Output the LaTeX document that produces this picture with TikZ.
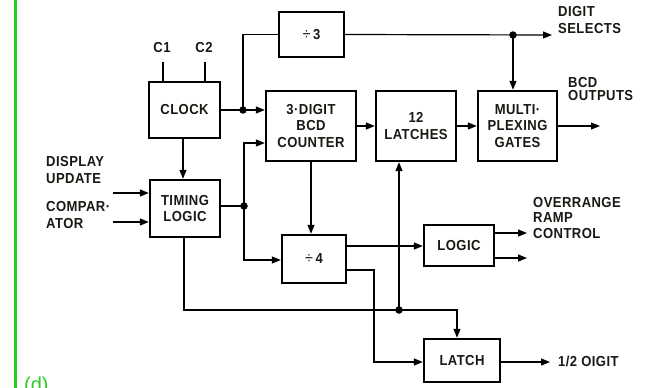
\documentclass[tikz,border=0pt]{standalone}
\usepackage{fontspec}
\setmainfont{Liberation Sans}[LetterSpace=3,FakeStretch=0.9]
\newfontfamily\plainfont{Liberation Sans}
\usetikzlibrary{arrows.meta,calc}
\definecolor{grn}{RGB}{40,205,30}
\definecolor{ink}{RGB}{25,25,20}
\begin{document}
\begin{tikzpicture}[x=1pt,y=-1pt,
  txt/.style={font=\fontsize{14.5}{16.5}\selectfont\bfseries, text=ink},
  blk/.style={draw, line width=2.4pt, txt, align=center, inner sep=0pt},
  con/.style={line width=1.2pt},
  arr/.style={con, -{Triangle[length=9pt,width=7pt]}},
  dot/.style={circle, fill, inner sep=0pt, minimum size=7.5pt},
  lab/.style={txt, align=left, inner sep=0pt, anchor=base west}]
\useasboundingbox (0,0) rectangle (645,388);
\fill[white] (0,0) rectangle (645,388);
\draw[grn, line width=3pt] (15,0) -- (15,388);
\node[anchor=north west, text=grn, font=\plainfont\fontsize{20}{22}\selectfont, inner sep=0pt] (fig) at (24,377) {(d)};

% blocks
\node[blk, minimum width=65pt, minimum height=45pt] (div3) at (311.5,34.5) {{\mdseries\fontsize{16}{16}\selectfont ÷}\,3};
\node[blk, minimum width=71pt, minimum height=56pt] (clock) at (184.5,110) {CLOCK};
\node[blk, minimum width=90pt, minimum height=70pt] (cnt) at (311,126) {3·DIGIT\\BCD\\COUNTER};
\node[blk, minimum width=80pt, minimum height=70pt] (lat) at (416,126) {12\\LATCHES};
\node[blk, minimum width=79pt, minimum height=70pt] (mux) at (517.5,126) {MULTI·\\PLEXING\\GATES};
\node[blk, minimum width=70pt, minimum height=57pt] (tim) at (185,208.5) {TIMING\\LOGIC};
\node[blk, minimum width=64pt, minimum height=48pt] (div4) at (314,259) {{\mdseries\fontsize{16}{16}\selectfont ÷}\,4};
\node[blk, minimum width=70pt, minimum height=41pt] (logic) at (459,245.5) {LOGIC};
\node[blk, minimum width=76pt, minimum height=43pt] (latch) at (462,360.5) {LATCH};

% labels
\node[txt, anchor=base, inner sep=0pt] (c1) at (162,52) {C1};
\node[txt, anchor=base, inner sep=0pt] (c2) at (204,52) {C2};
\node[lab] (disp) at (46,183) {DISPLAY\\UPDATE};
\node[lab] (comp) at (46,228) {COMPAR·\\ATOR};
\node[lab] (dsel) at (558,33) {DIGIT\\SELECTS};
\node[lab, font=\fontsize{14.5}{13}\selectfont\bfseries] (bcdo) at (568,100) {BCD\\OUTPUTS};
\node[lab, font=\fontsize{14.5}{15.5}\selectfont\bfseries] (ovr) at (533,238) {OVERRANGE\\RAMP\\CONTROL};
\node[lab] (half) at (558,366) {1/2 OIGIT};

% coordinates
\coordinate (c1e) at (163,62);
\coordinate (c2e) at (205,62);
\coordinate (j1) at (243,110);
\coordinate (j2) at (513,35);
\coordinate (j3) at (244,206);
\coordinate (j4) at (399,310);
\coordinate (dsE) at (552,35);
\coordinate (bcdE) at (600,126);
\coordinate (duS) at (113,193);
\coordinate (cmS) at (113,222);
\coordinate (ovE) at (527,233);
\coordinate (rcE) at (527,258);
\coordinate (hdE) at (550,362);

% connectors
\draw[con] (c1e) -- (c1e |- clock.north);
\draw[con] (c2e) -- (c2e |- clock.north);
\draw[arr] (clock.east) -- (clock.east -| cnt.west);
\draw[con] (j1) |- (div3.west);
\draw[arr] (div3.east) -- (dsE);
\draw[arr] (j2) -- (j2 |- mux.north);
\draw[arr] (cnt.east) -- (lat.west);
\draw[arr] (lat.east) -- (mux.west);
\draw[arr] (mux.east) -- (bcdE);
\draw[arr] (clock.south -| 183,0) -- (tim.north -| 183,0);
\draw[arr] (duS) -- (duS -| tim.west);
\draw[arr] (cmS) -- (cmS -| tim.west);
\draw[con] (tim.east |- j3) -- (j3);
\draw[arr] (j3) |- (cnt.west |- 0,143);
\draw[arr] (j3) |- (div4.west |- 0,260);
\draw[arr] (cnt.south) -- (cnt.south |- div4.north);
\draw[arr] (div4.east |- 0,246) -- (logic.west |- 0,246);
\draw[arr] (logic.east |- ovE) -- (ovE);
\draw[arr] (logic.east |- rcE) -- (rcE);
\draw[arr] (div4.east |- 0,270) -- (374,270) |- (latch.west |- hdE);
\draw[arr] (tim.south -| 184,0) |- (457,310) -- (latch.north -| 457,0);
\draw[arr] (j4) -- (j4 |- lat.south);
\draw[arr] (latch.east |- hdE) -- (hdE);

\node[dot] (d1) at (j1) {};
\node[dot] (d2) at (j2) {};
\node[dot] (d3) at (j3) {};
\node[dot] (d4) at (j4) {};
\end{tikzpicture}
\end{document}
